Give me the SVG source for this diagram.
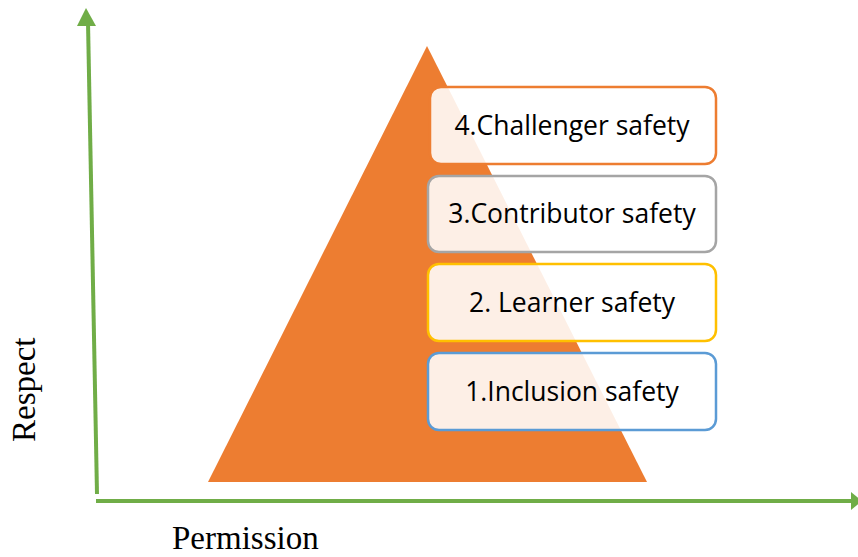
<svg xmlns="http://www.w3.org/2000/svg" width="858" height="557" viewBox="0 0 858 557">
<style>
.box{fill:#ffffff;fill-opacity:0.88;stroke-width:2.5}
.lbl{font-family:"Open Sans","Liberation Sans",sans-serif;font-size:26.5px;fill:#000;text-anchor:middle}
.axt{font-family:"Liberation Serif",serif;font-size:33px;fill:#000}
.axis{stroke:#70AD47;stroke-width:4;fill:none}
</style>
<rect width="858" height="557" fill="#fff"/>
<g id="pyramid"><polygon points="427,46 208,482 647,482" fill="#ED7D31"/></g>
<g id="connectors">
<line class="axis" x1="97" y1="494" x2="88" y2="22"/>
<polygon points="86,8 77,26 96,26" fill="#70AD47"/>
<line class="axis" x1="96" y1="501" x2="852" y2="501"/>
<polygon points="862,501 851,492 851,510" fill="#70AD47"/>
</g>
<g id="n4"><rect class="box" x="430" y="87" width="286" height="77" rx="11" stroke="#ED7D31"/><text class="lbl" x="572" y="135">4.Challenger safety</text></g>
<g id="n3"><rect class="box" x="428" y="176" width="288" height="76" rx="11" stroke="#A5A5A5"/><text class="lbl" x="572" y="223">3.Contributor safety</text></g>
<g id="n2"><rect class="box" x="428" y="264" width="288" height="77" rx="11" stroke="#FFC000"/><text class="lbl" x="572" y="312">2. Learner safety</text></g>
<g id="n1"><rect class="box" x="428" y="353" width="288" height="77" rx="11" stroke="#5B9BD5"/><text class="lbl" x="572" y="401">1.Inclusion safety</text></g>
<text class="axt" transform="translate(35,442) rotate(-90)">Respect</text>
<text class="axt" x="172" y="549">Permission</text>
</svg>
